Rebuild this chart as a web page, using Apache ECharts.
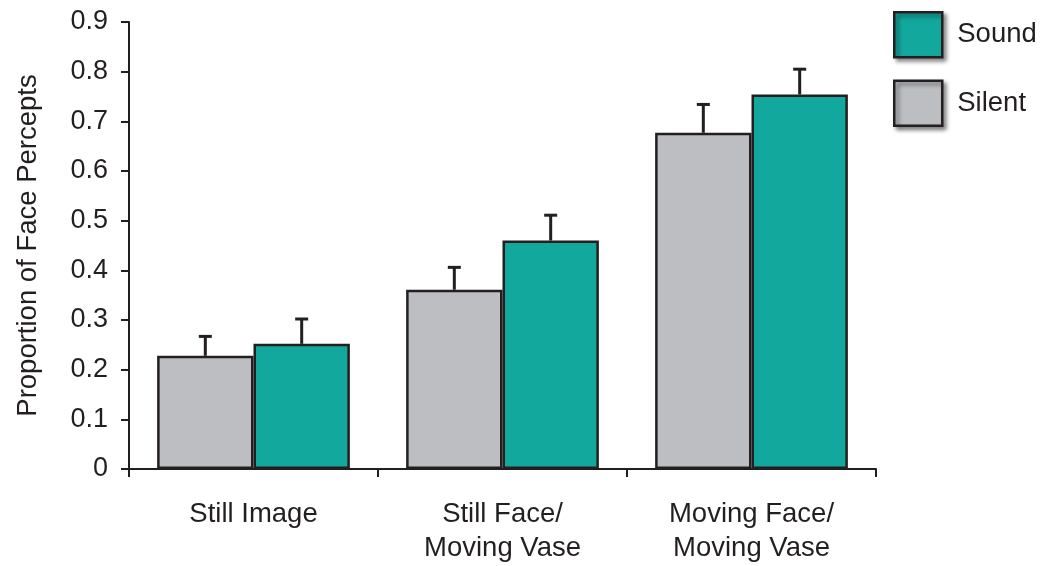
<!DOCTYPE html>
<html>
<head>
<meta charset="utf-8">
<script src="https://cdn.jsdelivr.net/npm/echarts@6/dist/echarts.min.js"></script>
<style>
html,body{margin:0;padding:0;background:#fff;}
#chart{width:1053px;height:566px;}
</style>
</head>
<body>
<div id="chart"></div>
<script>
const categories = ['Still Image', 'Still Face/\nMoving Vase', 'Moving Face/\nMoving Vase'];
const silentValues = [0.228, 0.361, 0.677];
const silentErrors = [0.039, 0.045, 0.057];
const soundValues = [0.252, 0.460, 0.754];
const soundErrors = [0.050, 0.051, 0.051];
const yTicks = [0, 0.1, 0.2, 0.3, 0.4, 0.5, 0.6, 0.7, 0.8, 0.9];

const INK = '#231f20';
const TEAL = '#13a89e';
const GRAY = '#bdbec2';
const FONT = 'Liberation Sans, Arial, sans-serif';
const CAT_GAP = 0.226;

const errData = [];
silentValues.forEach((v, i) => errData.push([i, v, silentErrors[i], 0]));
soundValues.forEach((v, i) => errData.push([i, v, soundErrors[i], 1]));

const chart = echarts.init(document.getElementById('chart'), null, {renderer: 'canvas'});
chart.setOption({
  animation: false,
  backgroundColor: '#ffffff',
  textStyle: {fontFamily: FONT, color: INK},
  grid: {left: 129, right: 177, top: 22, bottom: 97, containLabel: false},
  legend: {
    orient: 'vertical',
    left: 888, top: 6,
    data: ['Sound', 'Silent'],
    itemWidth: 48, itemHeight: 45, itemGap: 21,
    icon: 'rect',
    itemStyle: {borderColor: INK, borderWidth: 2.5, shadowBlur: 4, shadowColor: 'rgba(0,0,0,0.45)', shadowOffsetX: 3, shadowOffsetY: 3},
    textStyle: {fontFamily: FONT, fontSize: 27.5, color: INK, padding: [0, 0, 0, 10]},
    selectedMode: false
  },
  xAxis: {
    type: 'category',
    data: categories,
    boundaryGap: true,
    axisLine: {lineStyle: {color: INK, width: 2}},
    axisTick: {show: true, length: 8, lineStyle: {color: INK, width: 2}},
    axisLabel: {fontFamily: FONT, fontSize: 27.5, color: INK, lineHeight: 34, margin: 28, verticalAlign: 'top', interval: 0}
  },
  yAxis: {
    type: 'value',
    min: 0, max: 0.9, interval: 0.1,
    name: 'Proportion of Face Percepts',
    nameLocation: 'middle',
    nameGap: 87,
    nameTextStyle: {fontFamily: FONT, fontSize: 27.5, color: INK},
    splitLine: {show: false},
    axisLine: {show: true, lineStyle: {color: INK, width: 2}},
    axisTick: {show: true, length: 8, lineStyle: {color: INK, width: 2}},
    axisLabel: {fontFamily: FONT, fontSize: 27, color: INK, margin: 21,
      formatter: v => { const t = yTicks.find(x => Math.abs(x - v) < 1e-9); return t === 0 ? '0' : (t !== undefined ? t.toFixed(1) : ''); }}
  },
  series: [
    {
      name: 'Silent', type: 'bar', data: silentValues,
      barGap: '0%', barCategoryGap: (CAT_GAP * 100) + '%',
      itemStyle: {color: GRAY, borderColor: INK, borderWidth: 2.5},
      z: 2
    },
    {
      name: 'Sound', type: 'bar', data: soundValues,
      barGap: '0%', barCategoryGap: (CAT_GAP * 100) + '%',
      itemStyle: {color: TEAL, borderColor: INK, borderWidth: 2.5},
      z: 2
    },
    {
      type: 'custom',
      name: 'err',
      data: errData,
      z: 3,
      renderItem: function (params, api) {
        const cat = api.value(0), v = api.value(1), e = api.value(2), s = api.value(3);
        const band = api.size([1, 0])[0];
        const bw = band * (1 - CAT_GAP) / 2;
        const base = api.coord([cat, v]);
        const top = api.coord([cat, v + e]);
        const x = base[0] + (s === 0 ? -bw / 2 : bw / 2);
        const cap = 6.5;
        return {
          type: 'group',
          children: [
            {type: 'line', shape: {x1: x, y1: base[1], x2: x, y2: top[1]}, style: {stroke: INK, lineWidth: 3}},
            {type: 'line', shape: {x1: x - cap, y1: top[1], x2: x + cap, y2: top[1]}, style: {stroke: INK, lineWidth: 3}}
          ]
        };
      }
    }
  ]
});
</script>
</body>
</html>
